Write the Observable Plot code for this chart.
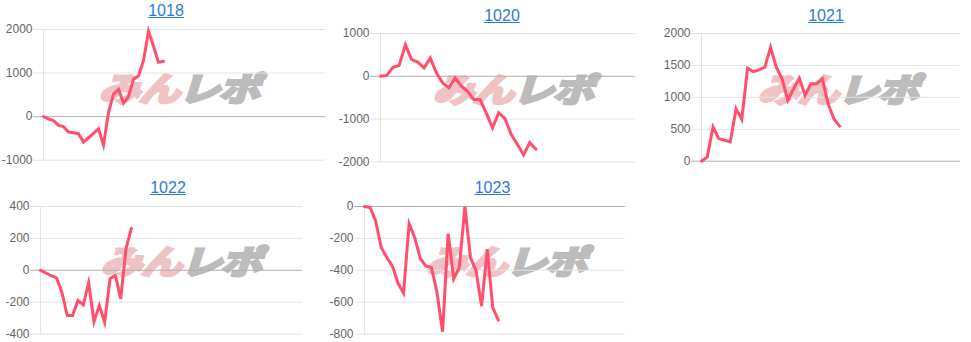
<!DOCTYPE html>
<html>
<head>
<meta charset="utf-8">
<script src="https://cdn.jsdelivr.net/npm/d3@7"></script>
<script src="https://cdn.jsdelivr.net/npm/@observablehq/plot@0.6"></script>
<style>
  html, body { margin: 0; padding: 0; background: #fff; overflow: hidden; }
  #root { position: relative; width: 971px; height: 342px; font-family: "Liberation Sans", Arial, sans-serif; }
  .panel-svg { position: absolute; z-index: 2; }
  .title { position: absolute; z-index: 3; transform: translate(-50%, -50%); font-size: 16px; line-height: 1; color: #2a7bd6; text-decoration: underline; white-space: nowrap; }
  .wm { position: absolute; z-index: 1; transform: translate(-50%, -50%) scaleX(1.25) skewX(-14deg); font-family: "Noto Sans CJK JP", sans-serif; font-weight: 700; font-size: 33px; line-height: 1; white-space: nowrap; letter-spacing: -1px; }
  .wm .a { color: #efc3c3; -webkit-text-stroke: 3px #efc3c3; }
  .wm .b { color: #bcbcbc; -webkit-text-stroke: 3px #bcbcbc; }
</style>
</head>
<body>
<div id="root"></div>
<script>
// ---- data ----
const names = ["1018", "1020", "1021", "1022", "1023"];

const v1018 = [0, -50, -90, -200, -230, -354, -370, -392, -585, -485, -385, -277, -654, 92, 515, 630, 308, 460, 860, 938, 1285, 1960, 1615, 1246, 1270];
const v1020 = [0, 20, 210, 256, 736, 388, 333, 194, 426, 78, -155, -271, -39, -233, -349, -543, -543, -853, -1202, -853, -984, -1357, -1589, -1837, -1550, -1705];
const v1021 = [0, 68, 536, 354, 328, 302, 822, 655, 1456, 1404, 1430, 1472, 1784, 1472, 1290, 952, 1134, 1300, 1030, 1212, 1212, 1290, 900, 666, 550];
const v1022 = [0, -17, -34, -48, -137, -284, -284, -189, -217, -78, -322, -221, -326, -53, -32, -179, 137, 263];
const v1023 = [0, -6, -90, -257, -320, -372, -480, -543, -108, -194, -326, -372, -382, -539, -785, -170, -455, -382, 0, -320, -403, -625, -268, -634, -712];

const seriesValues = [v1018, v1020, v1021, v1022, v1023];

// x extent (number of slots on the x axis) per chart
const xExtent = [56.4, 41, 45, 49, 46.8];

const yDomains = [[-1000, 2000], [-2000, 1000], [0, 2000], [-400, 400], [-800, 0]];
const yTicks = [
  [-1000, 0, 1000, 2000],
  [-2000, -1000, 0, 1000],
  [0, 500, 1000, 1500, 2000],
  [-400, -200, 0, 200, 400],
  [-800, -600, -400, -200, 0]
];

// ---- layout (page pixel positions of each plot frame, title and watermark) ----
const layout = [
  {left: 43,  right: 325, top: 29.3,  bottom: 160,   tx: 166,   ty: 10.7, wx: 183, wy: 87},
  {left: 380, right: 635, top: 33.3,  bottom: 161.7, tx: 502,   ty: 15.7, wx: 517, wy: 88},
  {left: 701, right: 960, top: 33.3,  bottom: 161,   tx: 826,   ty: 15.7, wx: 842, wy: 88},
  {left: 40,  right: 302, top: 205.7, bottom: 333.3, tx: 168,   ty: 188,  wx: 185, wy: 260},
  {left: 364, right: 625, top: 205.7, bottom: 333.3, tx: 492.5, ty: 188,  wx: 510, wy: 260}
];

const root = document.getElementById("root");
const mL = 40, mR = 6, mT = 10, mB = 10;

names.forEach((name, k) => {
  const L = layout[k];
  const vals = seriesValues[k];
  const ticks = yTicks[k];

  // watermark (behind)
  const wm = document.createElement("div");
  wm.className = "wm";
  wm.style.left = L.wx + "px";
  wm.style.top = L.wy + "px";
  wm.innerHTML = '<span class="a">みん</span><span class="b">レポ</span>';
  root.appendChild(wm);

  const plot = Plot.plot({
    width: (L.right - L.left) + mL + mR,
    height: (L.bottom - L.top) + mT + mB,
    marginLeft: mL, marginRight: mR, marginTop: mT, marginBottom: mB,
    style: {background: "transparent", fontSize: "12px", fontFamily: "'Liberation Sans', Arial, sans-serif", color: "#666", overflow: "visible"},
    x: {domain: [0, xExtent[k]], axis: null},
    y: {domain: yDomains[k], ticks: ticks, tickSize: 0, tickPadding: 11, tickFormat: d => String(d), label: null},
    marks: [
      Plot.ruleY(ticks, {stroke: d => d === 0 ? "#b0b0b0" : "#e4e4e4", strokeWidth: 1, insetLeft: -10}),
      Plot.ruleX([0], {stroke: "#e4e4e4", strokeWidth: 1}),
      Plot.lineY(vals, {x: (d, i) => i, y: d => d, stroke: "#ff4f6d", strokeWidth: 3, strokeLinejoin: "miter", strokeMiterlimit: 6})
    ]
  });
  plot.classList.add("panel-svg");
  plot.style.left = (L.left - mL) + "px";
  plot.style.top = (L.top - mT) + "px";
  root.appendChild(plot);

  const t = document.createElement("a");
  t.className = "title";
  t.href = "#";
  t.textContent = name;
  t.style.left = L.tx + "px";
  t.style.top = L.ty + "px";
  root.appendChild(t);
});
</script>
</body>
</html>
